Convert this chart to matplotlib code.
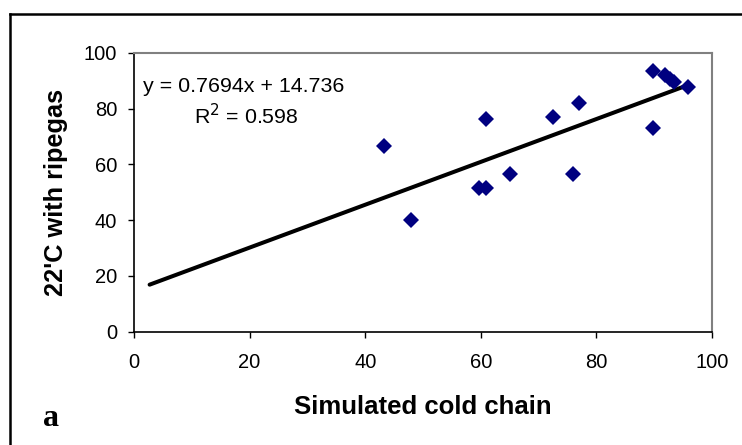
import matplotlib
matplotlib.use("Agg")
import matplotlib.pyplot as plt
from matplotlib.lines import Line2D

# data
cold_chain = [43.2, 48.0, 59.7, 60.9, 60.9, 65.0, 72.5, 76.0, 77.0,
              89.8, 89.8, 91.8, 92.7, 93.4, 95.8]
ripegas_22c = [66.7, 40.1, 51.7, 51.7, 76.2, 56.7, 76.9, 56.7, 82.0,
               93.4, 73.2, 92.2, 90.8, 89.6, 87.8]

slope = 0.7694
intercept = 14.736
r_squared = 0.598
trend_x = [2.7, 96.0]

x_ticks = [0, 20, 40, 60, 80, 100]
y_ticks = [0, 20, 40, 60, 80, 100]

plt.rcParams["font.family"] = ["Liberation Sans", "DejaVu Sans"]

fig = plt.figure(figsize=(7.42, 4.45), dpi=100)
ax = fig.add_axes([134 / 742, 1 - 331.5 / 445, (712 - 134) / 742, (331.5 - 53) / 445])

trend_y = [slope * x + intercept for x in trend_x]
ax.plot(trend_x, trend_y, color="black", lw=2.9, solid_capstyle="round", zorder=2)
ax.plot(cold_chain, ripegas_22c, linestyle="none", marker="D", ms=7.8,
        color="#000080", markeredgewidth=0, zorder=3)

ax.set_xlim(0, 100)
ax.set_ylim(0, 100)
ax.set_xticks(x_ticks)
ax.set_yticks(y_ticks)
ax.tick_params(direction="out", length=4.5, width=1, labelsize=14.5)
ax.tick_params(axis="y", pad=7.5)
ax.tick_params(axis="x", pad=11)

for side in ("top", "right"):
    ax.spines[side].set_color("#808080")
    ax.spines[side].set_linewidth(1.5)
for side in ("left", "bottom"):
    ax.spines[side].set_color("black")
    ax.spines[side].set_linewidth(1.2)

ax.text(0.015, 0.878, f"y = {slope}x + {intercept}", transform=ax.transAxes,
        fontsize=15.4, ha="left", va="center")
ax.text(0.194, 0.774, f"R$^2$ = {r_squared}", transform=ax.transAxes,
        fontsize=15.4, ha="center", va="center")

fig.text(423 / 742, 1 - 407 / 445, "Simulated cold chain", fontsize=18.5,
         fontweight="bold", ha="center", va="center")
fig.text(56 / 742, 1 - 192.5 / 445, "22'C with ripegas", fontsize=18.3,
         fontweight="bold", ha="center", va="center", rotation=90)
fig.text(50.5 / 742, 1 - 419 / 445, "a", fontsize=23, fontweight="bold",
         family=["Liberation Serif", "DejaVu Serif"], ha="center", va="center")

# outer frame (top and left edges visible)
fig.add_artist(Line2D([9.5 / 742, 1.0], [1 - 13.5 / 445, 1 - 13.5 / 445],
                      color="black", lw=1.8, transform=fig.transFigure))
fig.add_artist(Line2D([9.5 / 742, 9.5 / 742], [0.0, 1 - 13.5 / 445],
                      color="black", lw=1.8, transform=fig.transFigure))

fig.savefig("out.png", dpi=100)
